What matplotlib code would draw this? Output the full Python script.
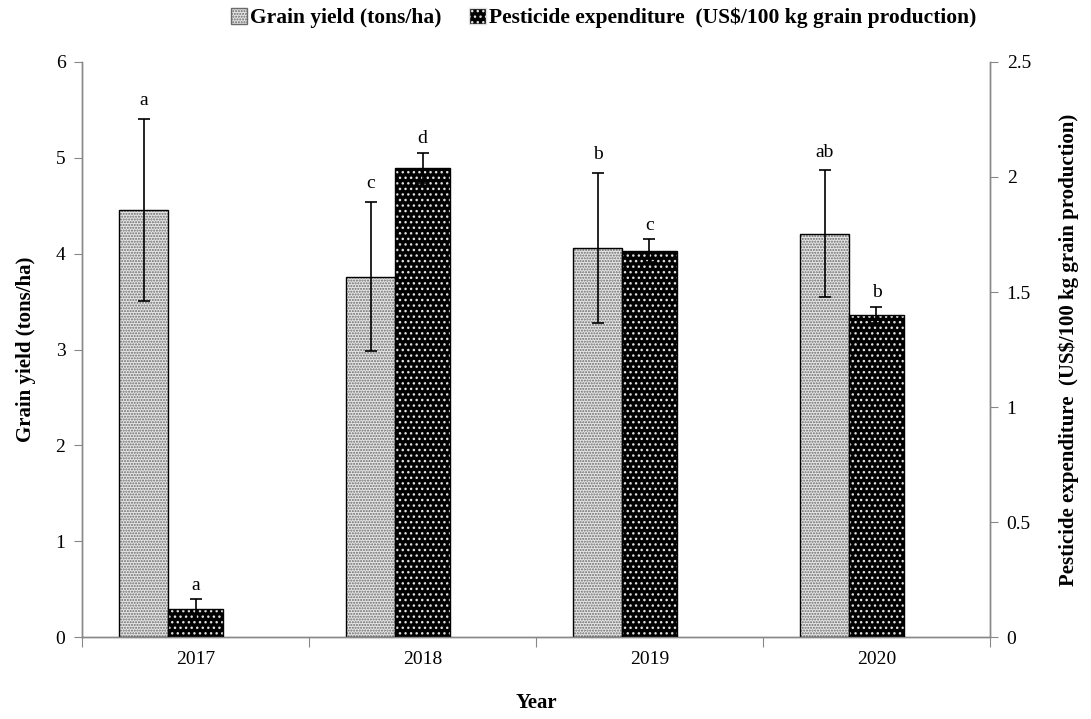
import numpy as np
import matplotlib
matplotlib.use("Agg")
import matplotlib.pyplot as plt
from matplotlib.patches import Patch

plt.rcParams['font.family'] = ['Liberation Serif', 'DejaVu Serif']
plt.rcParams['hatch.linewidth'] = 1.0

# data
years = ['2017', '2018', '2019', '2020']
grain_yield = [4.46, 3.76, 4.06, 4.21]        # tons/ha
grain_err = [0.95, 0.78, 0.78, 0.66]
grain_letters = ['a', 'c', 'b', 'ab']
pesticide = [0.12, 2.04, 1.68, 1.40]          # US$/100 kg grain
pesticide_err = [0.045, 0.065, 0.05, 0.035]
pesticide_letters = ['a', 'd', 'c', 'b']

x = np.arange(len(years))
w_grain = 0.216
w_pest = 0.242
x_grain = x - w_pest / 2 - w_grain / 2

grain_face, grain_hatch, grain_dots = '#e6e6e6', '#6a6a6a', '......'
pest_face, pest_hatch, pest_dots = 'black', '#e0e0e0', '...'

fig = plt.figure(figsize=(10.91, 7.19), dpi=100)
ax = fig.add_axes([0.0752, 0.114, 0.8322, 0.7998])
ax2 = ax.twinx()

# grain yield bars, light dotted fill
ax.bar(x_grain, grain_yield, w_grain, color=grain_face, edgecolor=grain_hatch,
       hatch=grain_dots, linewidth=0, zorder=2)
ax.bar(x_grain, grain_yield, w_grain, facecolor='none', edgecolor='black',
       linewidth=1.0, zorder=3)
ax.errorbar(x_grain, grain_yield, yerr=grain_err, fmt='none', ecolor='black',
            elinewidth=1.2, capsize=4, capthick=1.2, zorder=4)
for xi, v, e, t in zip(x_grain, grain_yield, grain_err, grain_letters):
    ax.annotate(t, (xi, v + e), xytext=(0, 7), textcoords='offset points',
                ha='center', va='bottom', fontsize=14)

# pesticide bars, black with white dots
ax2.bar(x, pesticide, w_pest, color=pest_face, edgecolor=pest_hatch,
        hatch=pest_dots, linewidth=0, zorder=2)
ax2.bar(x, pesticide, w_pest, facecolor='none', edgecolor='black',
        linewidth=1.0, zorder=3)
ax2.errorbar(x, pesticide, yerr=pesticide_err, fmt='none', ecolor='black',
             elinewidth=1.2, capsize=4, capthick=1.2, zorder=4)
for xi, v, e, t in zip(x, pesticide, pesticide_err, pesticide_letters):
    ax2.annotate(t, (xi, v + e), xytext=(0, 4), textcoords='offset points',
                 ha='center', va='bottom', fontsize=14)

ax.set_xlim(-0.5, 3.5)
ax.set_ylim(0, 6)
ax2.set_ylim(0, 2.5)
ax.set_yticks(range(7))
ax2.set_yticks([0, 0.5, 1, 1.5, 2, 2.5])
ax2.set_yticklabels(['0', '0.5', '1', '1.5', '2', '2.5'])

# category boundaries as ticks, year labels in between
ax.set_xticks(np.arange(-0.5, 4.0, 1.0))
ax.set_xticklabels([])
ax.set_xticks(x, minor=True)
ax.set_xticklabels(years, minor=True)
ax.tick_params(axis='x', which='minor', length=0, pad=10, labelsize=14)
ax.tick_params(axis='x', which='major', length=7, color='#888888')
ax.tick_params(axis='y', length=6, color='#888888', labelsize=14, pad=6)
ax2.tick_params(axis='y', length=6, color='#888888', labelsize=14, pad=6)

for a in (ax, ax2):
    a.spines['top'].set_visible(False)
    for s in ('left', 'right', 'bottom'):
        a.spines[s].set_color('#888888')
        a.spines[s].set_linewidth(1.0)

ax.set_ylabel('Grain yield (tons/ha)', fontsize=15, fontweight='bold', labelpad=14)
ax2.set_ylabel(r'Pesticide expenditure  (US\$/100 kg grain production)',
               fontsize=15, fontweight='bold', rotation=90, labelpad=20)
ax.set_xlabel('Year', fontsize=15, fontweight='bold', labelpad=18)

handles = [
    Patch(facecolor=grain_face, edgecolor=grain_hatch, hatch=grain_dots),
    Patch(facecolor=pest_face, edgecolor=pest_hatch, hatch=pest_dots),
]
fig.legend(handles, ['Grain yield (tons/ha)',
                     r'Pesticide expenditure  (US\$/100 kg grain production)'],
           loc='center', bbox_to_anchor=(0.553, 0.975), ncol=2, frameon=False,
           prop={'size': 15.5, 'weight': 'bold'}, handlelength=0.75,
           handleheight=0.75, handletextpad=0.15, columnspacing=1.3)

fig.savefig('out.png', dpi=100)
